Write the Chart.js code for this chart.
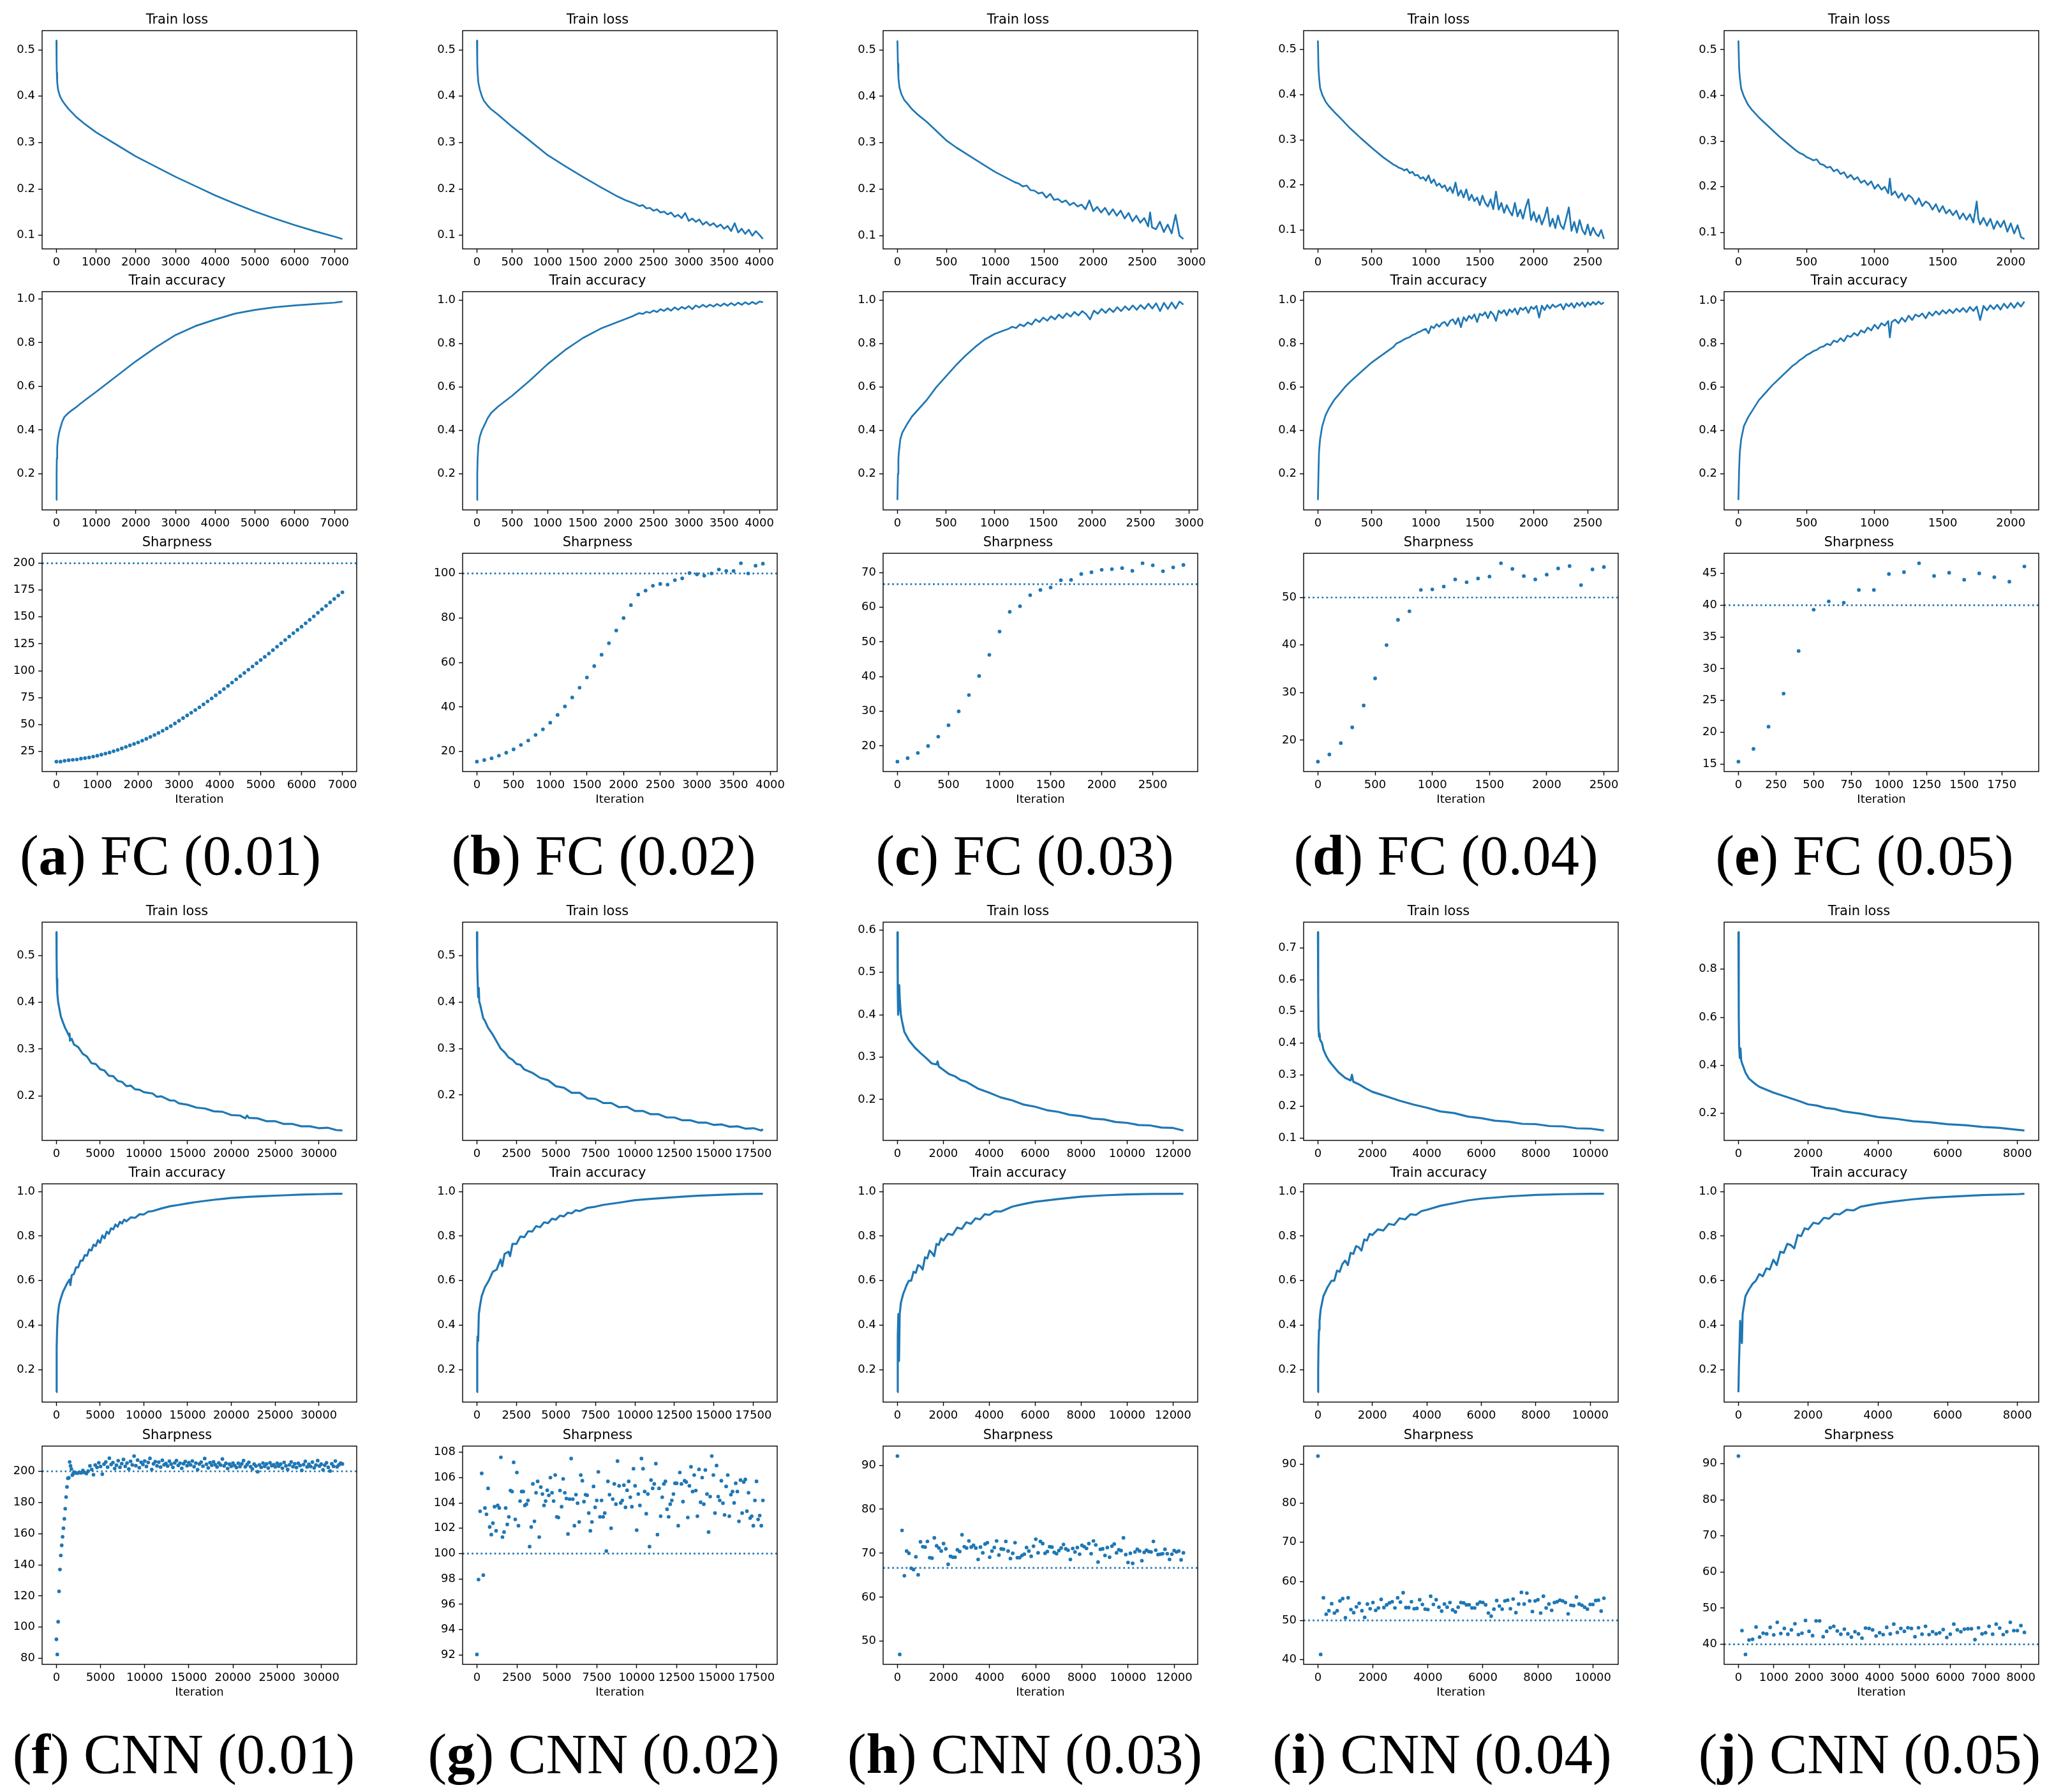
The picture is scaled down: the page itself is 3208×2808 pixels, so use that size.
<!DOCTYPE html>
<html>
<head>
<meta charset="utf-8">
<script src="https://cdn.jsdelivr.net/npm/chart.js@4.4.0/dist/chart.umd.min.js"></script>
<style>
html, body { margin: 0; padding: 0; background: #fff; }
#fig { position: relative; width: 3208px; height: 2808px; overflow: hidden; background: #fff; }
.panel { position: absolute; }
.cap { position: absolute; width: 700px; text-align: center; font-family: 'Liberation Serif', serif;
       font-size: 89px; line-height: 1; color: #000; white-space: nowrap; }
</style>
</head>
<body>
<div id="fig"></div>
<script>
// ---- FC network: train loss, [iteration, value] ----
const fcLossA = [[0,0.52],[5,0.47],[10,0.45],[20,0.43],[40,0.415],[70,0.405],[100,0.398],[150,0.39],[200,0.384],[300,0.373],[400,0.364],[500,0.355],[700,0.341],[1000,0.322],[1500,0.296],[2000,0.27],[2500,0.248],[3000,0.226],[3500,0.206],[4000,0.186],[4500,0.168],[5000,0.151],[5500,0.136],[6000,0.122],[6500,0.109],[7000,0.097],[7200,0.092]];
const fcLossB = [[0,0.52],[5,0.47],[10,0.45],[20,0.43],[40,0.415],[70,0.4],[100,0.39],[150,0.38],[200,0.372],[300,0.36],[400,0.347],[500,0.334],[700,0.31],[1000,0.273],[1250,0.249],[1500,0.226],[1750,0.204],[2000,0.183],[2100,0.176],[2200,0.17],
  [2250,0.167],[2300,0.163],[2350,0.165],[2400,0.158],[2450,0.159],[2500,0.153],[2550,0.156],[2600,0.149],[2650,0.151],[2700,0.145],[2750,0.149],[2800,0.14],[2850,0.144],[2900,0.137],[2950,0.148],[3000,0.131],[3050,0.136],[3100,0.129],[3150,0.134],[3200,0.123],[3250,0.129],[3300,0.121],[3350,0.126],[3400,0.118],[3450,0.123],[3500,0.114],[3550,0.12],[3600,0.109],[3650,0.126],[3700,0.106],[3750,0.114],[3800,0.103],[3850,0.112],[3900,0.099],[3950,0.109],[4000,0.101],[4050,0.092]];
const fcLossC = [[0,0.52],[5,0.47],[10,0.44],[20,0.42],[40,0.405],[70,0.392],[100,0.385],[150,0.372],[200,0.362],[300,0.345],[400,0.325],[500,0.305],[600,0.29],[750,0.27],[900,0.25],[1000,0.237],[1100,0.226],[1200,0.215],
  [1240,0.212],[1280,0.206],[1320,0.208],[1360,0.198],[1400,0.197],[1440,0.191],[1480,0.193],[1520,0.182],[1560,0.19],[1600,0.177],[1640,0.179],[1680,0.172],[1720,0.176],[1760,0.166],[1800,0.171],[1840,0.163],[1880,0.167],[1920,0.157],[1960,0.176],[2000,0.153],[2040,0.162],[2080,0.15],[2120,0.16],[2160,0.145],[2200,0.157],[2240,0.143],[2280,0.154],[2320,0.137],[2360,0.149],[2400,0.131],[2440,0.143],[2480,0.128],[2520,0.138],[2560,0.12],[2580,0.15],[2600,0.118],[2640,0.114],[2680,0.13],[2720,0.108],[2760,0.124],[2800,0.105],[2840,0.145],[2880,0.1],[2920,0.093]];
const fcLossD = [[0,0.52],[5,0.46],[10,0.44],[20,0.415],[40,0.4],[70,0.385],[100,0.375],[150,0.362],[200,0.35],[300,0.325],[400,0.303],[500,0.282],[600,0.262],[700,0.245],
  [725,0.242],[750,0.238],[775,0.236],[800,0.232],[825,0.235],[850,0.226],[875,0.229],[900,0.221],[925,0.222],[950,0.214],[975,0.217],[1000,0.209],[1025,0.221],[1050,0.204],[1075,0.212],[1100,0.198],[1125,0.203],[1150,0.194],[1175,0.199],[1200,0.186],[1225,0.195],[1250,0.182],[1275,0.205],[1300,0.176],[1325,0.188],[1350,0.172],[1375,0.19],[1400,0.166],[1425,0.178],[1450,0.164],[1475,0.172],[1500,0.155],[1525,0.176],[1550,0.16],[1575,0.152],[1600,0.168],[1625,0.146],[1650,0.185],[1675,0.145],[1700,0.16],[1725,0.138],[1750,0.155],[1775,0.142],[1800,0.132],[1825,0.16],[1850,0.13],[1875,0.145],[1900,0.125],[1925,0.15],[1950,0.168],[1975,0.122],[2000,0.14],[2025,0.118],[2050,0.133],[2075,0.112],[2100,0.128],[2125,0.15],[2150,0.108],[2175,0.125],[2200,0.104],[2225,0.132],[2250,0.11],[2275,0.102],[2300,0.125],[2325,0.15],[2350,0.098],[2375,0.118],[2400,0.094],[2425,0.122],[2450,0.1],[2475,0.09],[2500,0.112],[2525,0.088],[2550,0.105],[2575,0.092],[2600,0.086],[2625,0.1],[2650,0.08]];
const fcLossE = [[0,0.52],[5,0.46],[10,0.44],[20,0.415],[40,0.398],[70,0.38],[100,0.368],[150,0.352],[200,0.338],[250,0.324],[300,0.31],[400,0.285],
  [425,0.279],[450,0.274],[475,0.271],[500,0.265],[525,0.262],[550,0.258],[575,0.26],[600,0.25],[625,0.248],[650,0.242],[675,0.244],[700,0.234],[725,0.238],[750,0.228],[775,0.232],[800,0.22],[825,0.226],[850,0.216],[875,0.221],[900,0.209],[925,0.214],[950,0.204],[975,0.212],[1000,0.196],[1025,0.205],[1050,0.194],[1075,0.2],[1100,0.186],[1112,0.218],[1125,0.182],[1150,0.19],[1175,0.176],[1200,0.186],[1225,0.17],[1250,0.182],[1275,0.176],[1300,0.162],[1325,0.175],[1350,0.158],[1375,0.168],[1400,0.163],[1425,0.15],[1450,0.162],[1475,0.145],[1500,0.158],[1525,0.142],[1550,0.15],[1575,0.138],[1600,0.148],[1625,0.13],[1650,0.142],[1675,0.128],[1700,0.14],[1725,0.122],[1750,0.168],[1762,0.13],[1775,0.118],[1800,0.132],[1825,0.115],[1850,0.13],[1875,0.108],[1900,0.125],[1925,0.112],[1950,0.126],[1975,0.102],[2000,0.12],[2025,0.098],[2050,0.116],[2075,0.09],[2100,0.086]];

// ---- FC network: train accuracy ----
const fcAccA = [[0,0.08],[5,0.2],[10,0.27],[20,0.32],[40,0.36],[70,0.39],[100,0.41],[150,0.44],[200,0.46],[300,0.478],[400,0.492],[500,0.505],[600,0.52],[800,0.548],[1000,0.575],[1250,0.61],[1500,0.645],[2000,0.715],[2500,0.778],[3000,0.835],[3500,0.876],[4000,0.906],[4500,0.933],[5000,0.95],[5500,0.962],[6000,0.97],[6500,0.977],[7000,0.983],[7200,0.988]];
const fcAccB = [[0,0.08],[5,0.2],[10,0.27],[20,0.33],[40,0.37],[70,0.4],[100,0.42],[150,0.455],[200,0.48],[300,0.51],[400,0.535],[500,0.56],[750,0.63],[1000,0.705],[1250,0.77],[1500,0.825],[1750,0.868],[2000,0.9],[2200,0.925],
  [2250,0.933],[2300,0.94],[2350,0.936],[2400,0.946],[2450,0.941],[2500,0.952],[2550,0.945],[2600,0.958],[2650,0.95],[2700,0.962],[2750,0.951],[2800,0.966],[2850,0.955],[2900,0.968],[2950,0.96],[3000,0.972],[3050,0.958],[3100,0.975],[3150,0.966],[3200,0.978],[3250,0.968],[3300,0.979],[3350,0.97],[3400,0.982],[3450,0.972],[3500,0.984],[3550,0.974],[3600,0.986],[3650,0.976],[3700,0.988],[3750,0.978],[3800,0.99],[3850,0.98],[3900,0.991],[3950,0.982],[4000,0.993],[4050,0.99]];
const fcAccC = [[0,0.08],[5,0.2],[10,0.27],[15,0.3],[30,0.36],[50,0.39],[75,0.41],[100,0.43],[150,0.465],[200,0.49],[300,0.54],[400,0.6],[500,0.65],[600,0.7],[700,0.745],[800,0.785],[900,0.82],[1000,0.845],[1100,0.862],
  [1140,0.868],[1180,0.878],[1220,0.872],[1260,0.889],[1300,0.88],[1340,0.898],[1380,0.888],[1420,0.912],[1460,0.9],[1500,0.92],[1540,0.906],[1580,0.926],[1620,0.912],[1660,0.934],[1700,0.918],[1740,0.94],[1780,0.925],[1820,0.946],[1860,0.93],[1900,0.95],[1940,0.936],[1980,0.912],[2020,0.952],[2060,0.938],[2100,0.96],[2140,0.942],[2180,0.962],[2220,0.946],[2260,0.968],[2300,0.95],[2340,0.972],[2380,0.955],[2420,0.976],[2460,0.956],[2500,0.978],[2540,0.96],[2580,0.984],[2620,0.962],[2660,0.986],[2700,0.95],[2740,0.988],[2780,0.96],[2820,0.99],[2860,0.962],[2900,0.994],[2940,0.98]];
const fcAccD = [[0,0.08],[5,0.2],[10,0.3],[20,0.36],[40,0.42],[70,0.47],[100,0.5],[150,0.54],[200,0.57],[250,0.6],[300,0.625],[400,0.67],[500,0.714],[600,0.75],[700,0.785],
  [725,0.8],[750,0.806],[775,0.812],[800,0.82],[825,0.826],[850,0.83],[875,0.84],[900,0.844],[925,0.852],[950,0.856],[975,0.864],[1000,0.868],[1025,0.848],[1050,0.88],[1075,0.872],[1100,0.89],[1125,0.878],[1150,0.895],[1175,0.9],[1200,0.882],[1225,0.905],[1250,0.912],[1275,0.89],[1300,0.918],[1325,0.876],[1350,0.922],[1375,0.905],[1400,0.928],[1425,0.915],[1450,0.935],[1475,0.9],[1500,0.938],[1525,0.93],[1550,0.945],[1575,0.918],[1600,0.948],[1625,0.935],[1650,0.905],[1675,0.952],[1700,0.94],[1725,0.955],[1750,0.93],[1775,0.958],[1800,0.945],[1825,0.962],[1850,0.935],[1875,0.965],[1900,0.955],[1925,0.968],[1950,0.942],[1975,0.97],[2000,0.96],[2025,0.974],[2050,0.92],[2075,0.975],[2100,0.955],[2125,0.978],[2150,0.962],[2175,0.98],[2200,0.968],[2225,0.975],[2250,0.982],[2275,0.958],[2300,0.984],[2325,0.972],[2350,0.986],[2375,0.965],[2400,0.988],[2425,0.975],[2450,0.99],[2475,0.97],[2500,0.99],[2525,0.978],[2550,0.992],[2575,0.98],[2600,0.994],[2625,0.982],[2650,0.99]];
const fcAccE = [[0,0.08],[5,0.22],[10,0.3],[20,0.36],[40,0.42],[70,0.46],[100,0.49],[150,0.54],[200,0.575],[250,0.61],[300,0.64],[350,0.67],[400,0.7],
  [425,0.71],[450,0.725],[475,0.735],[500,0.748],[525,0.756],[550,0.766],[575,0.772],[600,0.784],[625,0.788],[650,0.8],[675,0.794],[700,0.815],[725,0.808],[750,0.826],[775,0.812],[800,0.838],[825,0.832],[850,0.85],[875,0.838],[900,0.862],[925,0.852],[950,0.875],[975,0.862],[1000,0.888],[1025,0.87],[1050,0.895],[1075,0.884],[1100,0.905],[1112,0.83],[1125,0.9],[1150,0.912],[1175,0.895],[1200,0.92],[1225,0.902],[1250,0.93],[1275,0.91],[1300,0.935],[1325,0.926],[1350,0.94],[1375,0.918],[1400,0.945],[1425,0.93],[1450,0.95],[1475,0.935],[1500,0.955],[1525,0.94],[1550,0.958],[1575,0.942],[1600,0.962],[1625,0.948],[1650,0.965],[1675,0.946],[1700,0.97],[1725,0.952],[1750,0.972],[1775,0.91],[1800,0.975],[1825,0.955],[1850,0.978],[1875,0.96],[1900,0.98],[1925,0.958],[1950,0.985],[1975,0.965],[2000,0.988],[2025,0.966],[2050,0.99],[2075,0.972],[2100,0.995]];

// ---- FC network: sharpness, one value every 100 iterations ----
const fcSharpA = [15.5,15.5,16.3,16.8,17.2,17.5,18.3,18.8,19.4,20.2,21,22,23,24,25.2,26.4,27.8,29.2,30.6,32,33.4,35,36.7,38.5,40.3,42.2,44.2,46.4,48.6,51,53.5,56,58.5,61,63.5,66,68.8,71.5,74.3,77.2,80,83,86,89,92,95,98,101,104,107,110,113,116,119.2,122.4,125.5,128.6,131.8,135,138,141,144.2,147.4,150.6,154,157.2,160.4,163.6,166.8,170,173];
const fcSharpB = [15.5,16.2,17,18.2,19.5,21,23,25,27.5,30,33,36.5,40.3,44.3,48.7,53.3,58.4,63.5,68.7,74.4,80,85.8,90.5,92.3,94.5,95.3,95,97,97.8,100.2,99.6,99,100,101.8,101.1,101.1,104.6,100,103.5,104.4];
const fcSharpC = [15.5,16.5,18,20,22.7,26,30,34.7,40.2,46.3,53,58.7,60.3,63.5,65,65.7,67.8,67.9,69.6,70.1,70.8,71,71.3,70.5,72.7,72.1,70.4,71.5,72.2];
const fcSharpD = [15.5,17,19.4,22.7,27.3,33,40,45.3,47.1,51.6,51.7,52.3,53.8,53.2,54,54.4,57.2,56,54.5,53.8,54.8,56.1,56.6,52.6,55.9,56.4];
const fcSharpE = [15.4,17.4,20.9,26.1,32.8,39.3,40.6,40.4,42.4,42.4,44.9,45.2,46.6,44.6,45.1,44,45,44.4,43.7,46.1];

// ---- CNN: train loss ----
const cnnLossF = [[0,0.55],[20,0.5],[50,0.45],[100,0.42],[200,0.4],[350,0.385],[500,0.37],[750,0.357],[1000,0.345],[1250,0.336],[1450,0.328],[1500,0.333],[1550,0.318],[1750,0.322],[2000,0.31],[2500,0.304],[3000,0.29],[3500,0.284],[4000,0.27],[4500,0.268],[5000,0.257],[5500,0.254],[6000,0.243],[6500,0.242],[7000,0.232],[7500,0.23],[8000,0.221],[8500,0.222],[9000,0.214],[9500,0.213],[10000,0.208],[11000,0.205],[11500,0.198],[12000,0.199],[13000,0.19],[13500,0.19],[14000,0.184],[15000,0.181],[16000,0.175],[17000,0.173],[18000,0.167],[19000,0.166],[20000,0.159],[21000,0.158],[21600,0.152],[21800,0.158],[22000,0.153],[23000,0.152],[24000,0.146],[25000,0.146],[26000,0.14],[27000,0.14],[28000,0.135],[29000,0.135],[30000,0.131],[31000,0.132],[32000,0.127],[32700,0.126]];
const cnnLossG = [[0,0.55],[20,0.48],[50,0.44],[80,0.41],[120,0.43],[150,0.4],[200,0.395],[300,0.38],[400,0.365],[500,0.36],[700,0.345],[1000,0.33],[1250,0.315],[1500,0.3],[1750,0.292],[2000,0.281],[2250,0.276],[2500,0.267],[2750,0.265],[3000,0.255],[3500,0.248],[4000,0.237],[4500,0.232],[5000,0.219],[5500,0.216],[6000,0.205],[6500,0.205],[7000,0.193],[7500,0.192],[8000,0.183],[8500,0.183],[9000,0.174],[9500,0.175],[10000,0.166],[10500,0.166],[11000,0.159],[11500,0.159],[12000,0.152],[12500,0.152],[13000,0.146],[13500,0.146],[14000,0.141],[14500,0.141],[15000,0.136],[15500,0.137],[16000,0.132],[16500,0.133],[17000,0.128],[17500,0.129],[18000,0.124],[18100,0.127]];
const cnnLossH = [[0,0.595],[15,0.45],[30,0.4],[60,0.42],[80,0.47],[100,0.44],[150,0.4],[200,0.385],[300,0.36],[500,0.34],[750,0.323],[1000,0.31],[1250,0.298],[1500,0.285],[1700,0.283],[1750,0.29],[1800,0.278],[2000,0.27],[2250,0.26],[2500,0.255],[2750,0.246],[3000,0.242],[3500,0.226],[4000,0.216],[4500,0.205],[5000,0.198],[5500,0.188],[6000,0.183],[6500,0.175],[7000,0.171],[7500,0.164],[8000,0.161],[8500,0.155],[9000,0.153],[9500,0.147],[10000,0.145],[10500,0.14],[11000,0.139],[11500,0.134],[12000,0.133],[12450,0.127]];
const cnnLossI = [[0,0.75],[10,0.55],[20,0.45],[40,0.42],[60,0.43],[80,0.41],[150,0.4],[200,0.38],[300,0.36],[400,0.345],[500,0.334],[750,0.308],[1000,0.29],[1200,0.282],[1250,0.3],[1300,0.278],[1500,0.27],[1750,0.257],[2000,0.246],[2500,0.232],[3000,0.218],[3500,0.206],[4000,0.196],[4500,0.184],[5000,0.179],[5500,0.168],[6000,0.163],[6500,0.155],[7000,0.152],[7500,0.145],[8000,0.144],[8500,0.138],[9000,0.137],[9500,0.131],[10000,0.13],[10500,0.124]];
const cnnLossJ = [[0,0.955],[10,0.6],[20,0.48],[40,0.43],[60,0.47],[80,0.42],[100,0.41],[150,0.39],[200,0.37],[300,0.345],[400,0.332],[500,0.32],[600,0.31],[800,0.298],[1000,0.286],[1250,0.274],[1500,0.262],[1750,0.25],[2000,0.237],[2250,0.232],[2500,0.222],[2750,0.218],[3000,0.208],[3500,0.198],[4000,0.184],[4500,0.177],[5000,0.167],[5500,0.162],[6000,0.154],[6500,0.15],[7000,0.143],[7500,0.139],[8000,0.131],[8200,0.128]];

// ---- CNN: train accuracy ----
const cnnAccF = [[0,0.1],[30,0.3],[80,0.38],[150,0.44],[300,0.49],[500,0.52],[750,0.55],[1000,0.57],[1250,0.59],[1500,0.605],[1600,0.58],[1750,0.625],[2000,0.63],[2250,0.66],[2500,0.66],[2750,0.69],[3000,0.69],[3250,0.715],[3500,0.712],[3750,0.74],[4000,0.735],[4250,0.762],[4500,0.755],[4750,0.782],[5000,0.77],[5250,0.803],[5500,0.79],[5750,0.82],[6000,0.81],[6250,0.835],[6500,0.83],[6750,0.852],[7000,0.842],[7250,0.864],[7500,0.856],[7750,0.874],[8000,0.866],[8500,0.884],[9000,0.882],[9500,0.898],[10000,0.897],[10500,0.91],[11000,0.912],[12000,0.924],[13000,0.934],[14000,0.94],[15000,0.947],[16000,0.953],[17000,0.958],[18000,0.963],[19000,0.967],[20000,0.971],[22000,0.976],[24000,0.98],[26000,0.983],[28000,0.986],[30000,0.988],[32000,0.99],[32700,0.99]];
const cnnAccG = [[0,0.1],[20,0.3],[40,0.35],[80,0.33],[120,0.45],[200,0.49],[300,0.53],[500,0.57],[750,0.6],[1000,0.64],[1250,0.65],[1500,0.695],[1600,0.665],[1750,0.72],[2000,0.73],[2100,0.71],[2250,0.765],[2500,0.765],[2750,0.798],[3000,0.795],[3250,0.822],[3500,0.82],[3750,0.845],[4000,0.84],[4250,0.862],[4500,0.858],[4750,0.878],[5000,0.874],[5250,0.892],[5500,0.888],[5750,0.905],[6000,0.902],[6250,0.916],[6500,0.912],[7000,0.927],[7500,0.932],[8000,0.94],[9000,0.95],[10000,0.961],[11000,0.967],[12000,0.972],[13000,0.977],[14000,0.981],[15000,0.984],[16000,0.987],[17000,0.989],[18100,0.99]];
const cnnAccH = [[0,0.1],[15,0.35],[40,0.45],[70,0.24],[100,0.45],[150,0.5],[250,0.54],[400,0.58],[500,0.6],[600,0.6],[700,0.64],[800,0.635],[900,0.67],[1000,0.665],[1100,0.65],[1200,0.705],[1300,0.7],[1400,0.735],[1500,0.725],[1600,0.71],[1700,0.765],[1800,0.76],[1900,0.79],[2000,0.78],[2200,0.81],[2400,0.805],[2600,0.838],[2800,0.832],[3000,0.862],[3200,0.855],[3400,0.88],[3600,0.875],[3800,0.898],[4000,0.895],[4250,0.912],[4500,0.91],[5000,0.932],[5500,0.944],[6000,0.954],[7000,0.966],[8000,0.977],[9000,0.983],[10000,0.987],[11000,0.989],[12450,0.99]];
const cnnAccI = [[0,0.1],[10,0.2],[20,0.3],[40,0.38],[60,0.42],[100,0.47],[200,0.53],[350,0.57],[500,0.6],[600,0.6],[700,0.645],[800,0.64],[900,0.675],[1000,0.69],[1100,0.67],[1200,0.725],[1300,0.72],[1400,0.755],[1500,0.75],[1600,0.735],[1700,0.785],[1800,0.78],[1900,0.81],[2000,0.805],[2200,0.83],[2400,0.825],[2600,0.855],[2800,0.85],[3000,0.88],[3200,0.875],[3400,0.898],[3600,0.895],[3800,0.912],[4000,0.918],[4500,0.936],[5000,0.948],[5500,0.96],[6000,0.968],[7000,0.978],[8000,0.985],[9000,0.988],[10000,0.99],[10500,0.99]];
const cnnAccJ = [[0,0.1],[15,0.22],[30,0.3],[50,0.42],[80,0.35],[100,0.32],[120,0.45],[150,0.48],[200,0.53],[300,0.56],[400,0.585],[500,0.6],[600,0.63],[700,0.62],[800,0.655],[900,0.65],[1000,0.694],[1100,0.67],[1200,0.73],[1300,0.725],[1400,0.765],[1500,0.76],[1600,0.745],[1700,0.805],[1800,0.8],[1900,0.835],[2000,0.83],[2150,0.86],[2300,0.855],[2450,0.882],[2600,0.878],[2750,0.9],[2900,0.897],[3100,0.918],[3300,0.915],[3500,0.932],[4000,0.946],[4500,0.956],[5000,0.965],[5500,0.972],[6000,0.976],[7000,0.984],[8000,0.988],[8200,0.99]];

// ---- CNN: sharpness (every 100 iterations; lr 0.01 late part every 200) ----
const cnnSharpFEarly = [92.2,82.5,103.5,123,137,146,152.5,158,163.5,169.5,176,183.5,190,195.5,195.8,206,203.5,201.5,197.5,198.5];
const cnnSharpFLate = [199.5,199,198.8,199.3,199,200.5,199.2,198.6,200.1,
  203.5,201.2,197.8,204,202.5,205.5,203.1,198.2,204.6,206,202.7,208.4,
  204.4,205.6,201.8,203.9,206.8,202.6,204.9,207.6,203.2,205.3,201.5,206.4,204.1,209.8,203.6,207.2,202.3,205.8,204.4,206.6,
  203.1,205.7,208.3,201.2,204.8,206.2,203.5,205.9,202.7,207.1,204.2,205,203.4,206.5,204.6,202.5,205.4,206.9,203.8,205.2,201.9,204.9,206.3,203.6,205.6,
  204.1,206.6,203,205.3,201.1,204.7,205.9,203.3,208.2,204.5,202.2,205.6,203.9,206.1,204.2,202.8,205.4,204,207.9,203.5,205.1,201.8,204.6,203.2,205.3,
  203.7,202.4,205.2,203.1,204.8,206.9,202.9,204.3,205.8,203,201.5,204.6,203.4,199.7,204.1,202.6,205.3,203.2,204.7,202.1,205.5,203.6,204.2,202.9,205.1,
  203.3,204.6,202,205.7,203.5,201.2,204.1,206,203,204.8,202.4,205.2,203.7,200.6,204.3,206.4,202.8,204.5,203.1,205.9,202.2,204,206.9,203.4,204.6,
  201,203.9,205.5,202.6,200.2,204.8,203.2,206.6,202.9,204.1,205.3,204.7];
const cnnSharpG = [92.04,97.95,103.34,106.33,98.3,103.6,103.1,105.15,102.1,101.5,
  102.4,103.7,101.8,103.8,103.6,107.6,101.3,101.7,103.6,102.3,
  102.9,104.98,104.9,107.2,102.7,106.4,102.2,104.15,104.9,104.9,
  103.8,103.9,104.2,100.55,102.1,105.5,102.55,104.8,105.7,101.3,
  105.25,104.7,103.8,104.15,105,104.6,106,104.8,104.15,106.2,
  102.9,102.85,104.98,103.7,105.9,104.8,104.35,101.55,104.3,107.5,
  104.3,102.2,104.65,103.98,102.5,106.2,105.75,104.1,104.65,104.6,
  103.2,101.8,102.5,105.3,103.65,104.2,106.45,102.9,104.2,102.9,
  103.2,100.2,105.7,104.65,102,104.3,105.5,103.9,107.3,105.35,
  104,104.2,105.4,103.65,105,105.7,104.45,103.7,106.7,105.35,
  101.85,104.7,103.8,107.5,106.7,104.9,103.15,104.7,100.55,105.8,
  105.15,105.5,107.1,101.5,105.15,102.95,104.45,105.5,105.7,103.5,
  102.9,103.9,104.2,104.7,105.55,105.55,102.2,106.4,105.5,104.1,
  105.75,105.65,102.85,105.35,106.85,104.9,106.2,104.98,102.95,106.65,
  104.05,106,103.9,106.6,104.7,101.7,104.5,107.7,106.2,103.2,
  106.95,104.5,104.2,105.75,103.98,103.05,105.3,106.2,102.95,104.65,
  104.9,104,105.55,104.9,102.55,105.8,103.2,105.65,105.85,103.35,
  104.8,102.8,102.95,102.2,104.2,105.7,102.7,103,102.2,104.2];
const cnnSharpH = [92.1,47,75.2,64.9,70.5,70,66.6,66.3,69.2,65.1,72.6,71.5,71.4,72.7,69,68.9,73.5,71.7,71.2,70.5,
  72.2,71,67.5,69.3,69.1,69.1,70.8,70.4,74.2,71.5,71.2,72.8,71.4,71.8,71.2,68.6,71.4,70.1,72.1,72.4,
  69.1,70.5,71.3,72.8,69.6,71,70.9,72.7,70.5,68.8,70,72.4,69,69,69.5,69.8,71.3,70.5,69.3,71.6,
  73.2,70.1,72.7,72.2,70,70.4,71.5,71.4,70.2,69.9,70.6,71.2,72,71,70.7,68.6,71.1,70.3,71.3,69.8,
  71.8,71.5,71.1,72.2,69.9,72.8,71.9,68,70.9,71,69.5,71.3,69.1,71.6,72.1,70.1,70.8,70.6,73.5,69.7,
  67.9,70,67.7,70.3,70.9,70.5,68.3,70.2,70.7,70.4,70.3,72.7,70.7,69.7,69.8,69.9,70.9,69.9,68.6,69.8,
  70.6,70.3,70.5,68.5,70.1];
const cnnSharpI = [92.1,41.3,55.8,51.6,52.5,54.3,51.9,52.5,55,55.6,50.7,55.8,52.8,52,53.5,54.4,52.5,50.8,54.2,53,
  54.6,52.6,53.2,55.4,53.3,54,54.5,54.8,53.2,55.8,54.7,57.1,53.3,53.3,54.8,53,53.1,55.3,54.1,52.9,
  52.8,56.2,54.1,55.3,53.4,52.4,54.2,53.4,54.6,52.7,52.2,53.4,54.6,54.5,54,54,53.2,53.2,54.2,54.7,
  54.6,54,51.9,51.1,52.9,55.1,53.7,52.9,55,55.2,53,55.5,52,54.2,57.2,54.2,57,55,52.3,55,
  55.3,51.9,56.2,53.2,54.2,52.6,54.6,54.8,55.2,55,54.6,51.7,53.9,53.8,56,54.2,53.9,53.4,52.9,54.1,
  54.1,55.1,55.2,52.4,55.7];
const cnnSharpJ = [92.1,43.8,37.2,41.2,41.4,44.8,42,43.1,42.9,44.7,42.6,46.1,43,44.4,42.8,44,45.7,42.7,43.1,46.6,
  43.6,42.4,46.5,46.5,42.1,43.6,44.6,45,43.7,42.8,44.2,42.9,42,43.5,42.9,41.7,44.5,44.4,44,42.3,
  43.2,42.7,44.7,42.9,45.6,43.3,44.4,43.6,44.6,44.4,42.1,44.6,42.8,45,42.7,43.5,42.9,43.2,44.1,41.9,
  42.8,45.6,44,43.5,44.2,44.3,44.3,41.3,44.6,42.9,43.2,45,42.8,45.6,44.5,42.7,43.5,46.1,43.8,43.8,
  45.2,43.3];

// 2 / learning rate
const sharpLimit = [200, 100, 66.67, 50, 40];
const sharpEvery = 100;

// ---- tick values ----
const ticksFcLossY = [0.1, 0.2, 0.3, 0.4, 0.5];
const ticksAccY = [0.2, 0.4, 0.6, 0.8, 1.0];
const ticksFcX = [[0,1000,2000,3000,4000,5000,6000,7000],[0,500,1000,1500,2000,2500,3000,3500,4000],[0,500,1000,1500,2000,2500,3000],[0,500,1000,1500,2000,2500],[0,500,1000,1500,2000]];
const ticksFcSharpX = [[0,1000,2000,3000,4000,5000,6000,7000],[0,500,1000,1500,2000,2500,3000,3500,4000],[0,500,1000,1500,2000,2500],[0,500,1000,1500,2000,2500],[0,250,500,750,1000,1250,1500,1750]];
const ticksFcSharpY = [[25,50,75,100,125,150,175,200],[20,40,60,80,100],[20,30,40,50,60,70],[20,30,40,50],[15,20,25,30,35,40,45]];
const ticksCnnX = [[0,5000,10000,15000,20000,25000,30000],[0,2500,5000,7500,10000,12500,15000,17500],[0,2000,4000,6000,8000,10000,12000],[0,2000,4000,6000,8000,10000],[0,2000,4000,6000,8000]];
const ticksCnnSharpX = [[0,5000,10000,15000,20000,25000,30000],[0,2500,5000,7500,10000,12500,15000,17500],[0,2000,4000,6000,8000,10000,12000],[0,2000,4000,6000,8000,10000],[0,1000,2000,3000,4000,5000,6000,7000,8000]];
const ticksCnnLossY = [[0.2,0.3,0.4,0.5],[0.2,0.3,0.4,0.5],[0.2,0.3,0.4,0.5,0.6],[0.1,0.2,0.3,0.4,0.5,0.6,0.7],[0.2,0.4,0.6,0.8]];
const ticksCnnSharpY = [[80,100,120,140,160,180,200],[92,94,96,98,100,102,104,106,108],[50,60,70,80,90],[40,50,60,70,80,90],[40,50,60,70,80,90]];

const lrLabels = ['0.01', '0.02', '0.03', '0.04', '0.05'];
const fcLetters = ['a', 'b', 'c', 'd', 'e'];
const cnnLetters = ['f', 'g', 'h', 'i', 'j'];

// ---- layout ----
const colLeft = [66, 725, 1384, 2043, 2702];
const rowTop = [48, 457, 867, 1445, 1855, 2266];
const axW = 493, axH = 342;
const fcCapX = [267, 946, 1606, 2266, 2922];
const cnnCapX = [288, 946, 1606, 2260, 2930];
const capTop = [1296, 2704];
const blue = '#1f77b4';

Chart.defaults.font.family = 'DejaVu Sans';
Chart.defaults.color = '#000';

const fig = document.getElementById('fig');

const framePlugin = {
    id: 'frame',
    afterDraw(chart) {
        const a = chart.chartArea;
        const ctx = chart.ctx;
        ctx.save();
        ctx.strokeStyle = '#000';
        ctx.lineWidth = 1.4;
        ctx.strokeRect(a.left, a.top, a.right - a.left, a.bottom - a.top);
        ctx.restore();
    }
};

function pad(lo, hi) {
    const m = (hi - lo) * 0.05;
    return [lo - m, hi + m];
}

function makePanel(col, row, title, datasets, xTicks, yTicks, limit, isSharp, fmtY) {
    const bottomH = isSharp ? 62 : 44;
    const w = 70 + axW + 70, h = 40 + axH + bottomH;
    const div = document.createElement('div');
    div.className = 'panel';
    div.style.left = (colLeft[col] - 70) + 'px';
    div.style.top = (rowTop[row] - 40) + 'px';
    div.style.width = w + 'px';
    div.style.height = h + 'px';
    const cv = document.createElement('canvas');
    cv.width = w; cv.height = h;
    cv.style.width = w + 'px'; cv.style.height = h + 'px';
    div.appendChild(cv);
    fig.appendChild(div);

    // axis limits like matplotlib autoscale (5% margins)
    let xs = [], ys = [];
    datasets.forEach(d => d.data.forEach(p => { xs.push(p.x); ys.push(p.y); }));
    if (limit !== null) ys.push(limit);
    const xr = pad(Math.min(...xs), Math.max(...xs));
    const yr = pad(Math.min(...ys), Math.max(...ys));

    const sets = datasets.slice();
    if (limit !== null) {
        sets.push({
            data: [{x: xr[0], y: limit}, {x: xr[1], y: limit}],
            showLine: true, pointRadius: 0, borderColor: blue, borderWidth: 2.7,
            borderDash: [2.7, 4.4], borderCapStyle: 'butt'
        });
    }

    const tickCommon = {
        font: {size: 18, family: 'DejaVu Sans'}, color: '#000', padding: 5,
        autoSkip: false, maxRotation: 0, minRotation: 0
    };
    const gridCommon = {
        drawOnChartArea: false, drawTicks: true, tickLength: 6, tickWidth: 1.4, tickColor: '#000'
    };

    new Chart(cv, {
        type: 'scatter',
        data: {datasets: sets},
        options: {
            responsive: false,
            animation: false,
            events: [],
            layout: {padding: {left: 0, right: 70, top: 0, bottom: 0}, autoPadding: false},
            plugins: {
                legend: {display: false},
                tooltip: {enabled: false},
                title: {
                    display: true, text: title, color: '#000',
                    font: {size: 21, family: 'DejaVu Sans', weight: 'normal'},
                    padding: {top: 11, bottom: 3.8}
                }
            },
            scales: {
                x: {
                    type: 'linear', min: xr[0], max: xr[1],
                    afterBuildTicks: s => { s.ticks = xTicks.filter(v => v >= s.min && v <= s.max).map(v => ({value: v})); },
                    afterFit: s => { s.height = bottomH; },
                    ticks: Object.assign({}, tickCommon, {callback: v => String(v)}),
                    grid: gridCommon,
                    border: {display: false},
                    title: {
                        display: isSharp, text: 'Iteration', color: '#000',
                        font: {size: 18, family: 'DejaVu Sans'}, padding: {top: 0, bottom: 7}
                    }
                },
                y: {
                    type: 'linear', min: yr[0], max: yr[1],
                    afterBuildTicks: s => { s.ticks = yTicks.filter(v => v >= s.min && v <= s.max).map(v => ({value: v})); },
                    afterFit: s => { s.width = 70; },
                    ticks: Object.assign({}, tickCommon, {callback: fmtY}),
                    grid: gridCommon,
                    border: {display: false}
                }
            }
        },
        plugins: [framePlugin]
    });
}

function curve(pairs, width) {
    return {
        data: pairs.map(p => ({x: p[0], y: p[1]})),
        showLine: true, pointRadius: 0, borderColor: blue, borderWidth: width,
        tension: 0, borderJoinStyle: 'round'
    };
}
function dots(points) {
    return {
        data: points, pointRadius: 2.9, pointBorderWidth: 0,
        backgroundColor: blue, borderColor: blue, showLine: false
    };
}
function everyStep(vals, start, step) {
    return vals.map((v, i) => ({x: start + i * step, y: v}));
}

const one = v => v.toFixed(1);
const whole = v => String(v);

const fcLoss = [fcLossA, fcLossB, fcLossC, fcLossD, fcLossE];
const fcAcc = [fcAccA, fcAccB, fcAccC, fcAccD, fcAccE];
const fcSharp = [fcSharpA, fcSharpB, fcSharpC, fcSharpD, fcSharpE];
const cnnLoss = [cnnLossF, cnnLossG, cnnLossH, cnnLossI, cnnLossJ];
const cnnAcc = [cnnAccF, cnnAccG, cnnAccH, cnnAccI, cnnAccJ];

for (let k = 0; k < 5; k++) {
    // FC
    makePanel(k, 0, 'Train loss', [curve(fcLoss[k], 2.7)], ticksFcX[k], ticksFcLossY, null, false, one);
    makePanel(k, 1, 'Train accuracy', [curve(fcAcc[k], 2.7)], ticksFcX[k], ticksAccY, null, false, one);
    makePanel(k, 2, 'Sharpness', [dots(everyStep(fcSharp[k], 0, sharpEvery))], ticksFcSharpX[k], ticksFcSharpY[k], sharpLimit[k], true, whole);

    // CNN
    let sharpPts;
    if (k === 0) {
        sharpPts = everyStep(cnnSharpFEarly, 0, sharpEvery).concat(everyStep(cnnSharpFLate, 2000, 2 * sharpEvery));
    } else {
        sharpPts = everyStep([cnnSharpG, cnnSharpH, cnnSharpI, cnnSharpJ][k - 1], 0, sharpEvery);
    }
    makePanel(k, 3, 'Train loss', [curve(cnnLoss[k], 3.2)], ticksCnnX[k], ticksCnnLossY[k], null, false, one);
    makePanel(k, 4, 'Train accuracy', [curve(cnnAcc[k], 3.2)], ticksCnnX[k], ticksAccY, null, false, one);
    makePanel(k, 5, 'Sharpness', [dots(sharpPts)], ticksCnnSharpX[k], ticksCnnSharpY[k], sharpLimit[k], true, whole);

    // captions
    const c1 = document.createElement('div');
    c1.className = 'cap';
    c1.style.left = (fcCapX[k] - 350) + 'px';
    c1.style.top = capTop[0] + 'px';
    c1.innerHTML = '(<b>' + fcLetters[k] + '</b>) FC (' + lrLabels[k] + ')';
    fig.appendChild(c1);

    const c2 = document.createElement('div');
    c2.className = 'cap';
    c2.style.left = (cnnCapX[k] - 350) + 'px';
    c2.style.top = capTop[1] + 'px';
    c2.innerHTML = '(<b>' + cnnLetters[k] + '</b>) CNN (' + lrLabels[k] + ')';
    fig.appendChild(c2);
}
</script>
</body>
</html>
